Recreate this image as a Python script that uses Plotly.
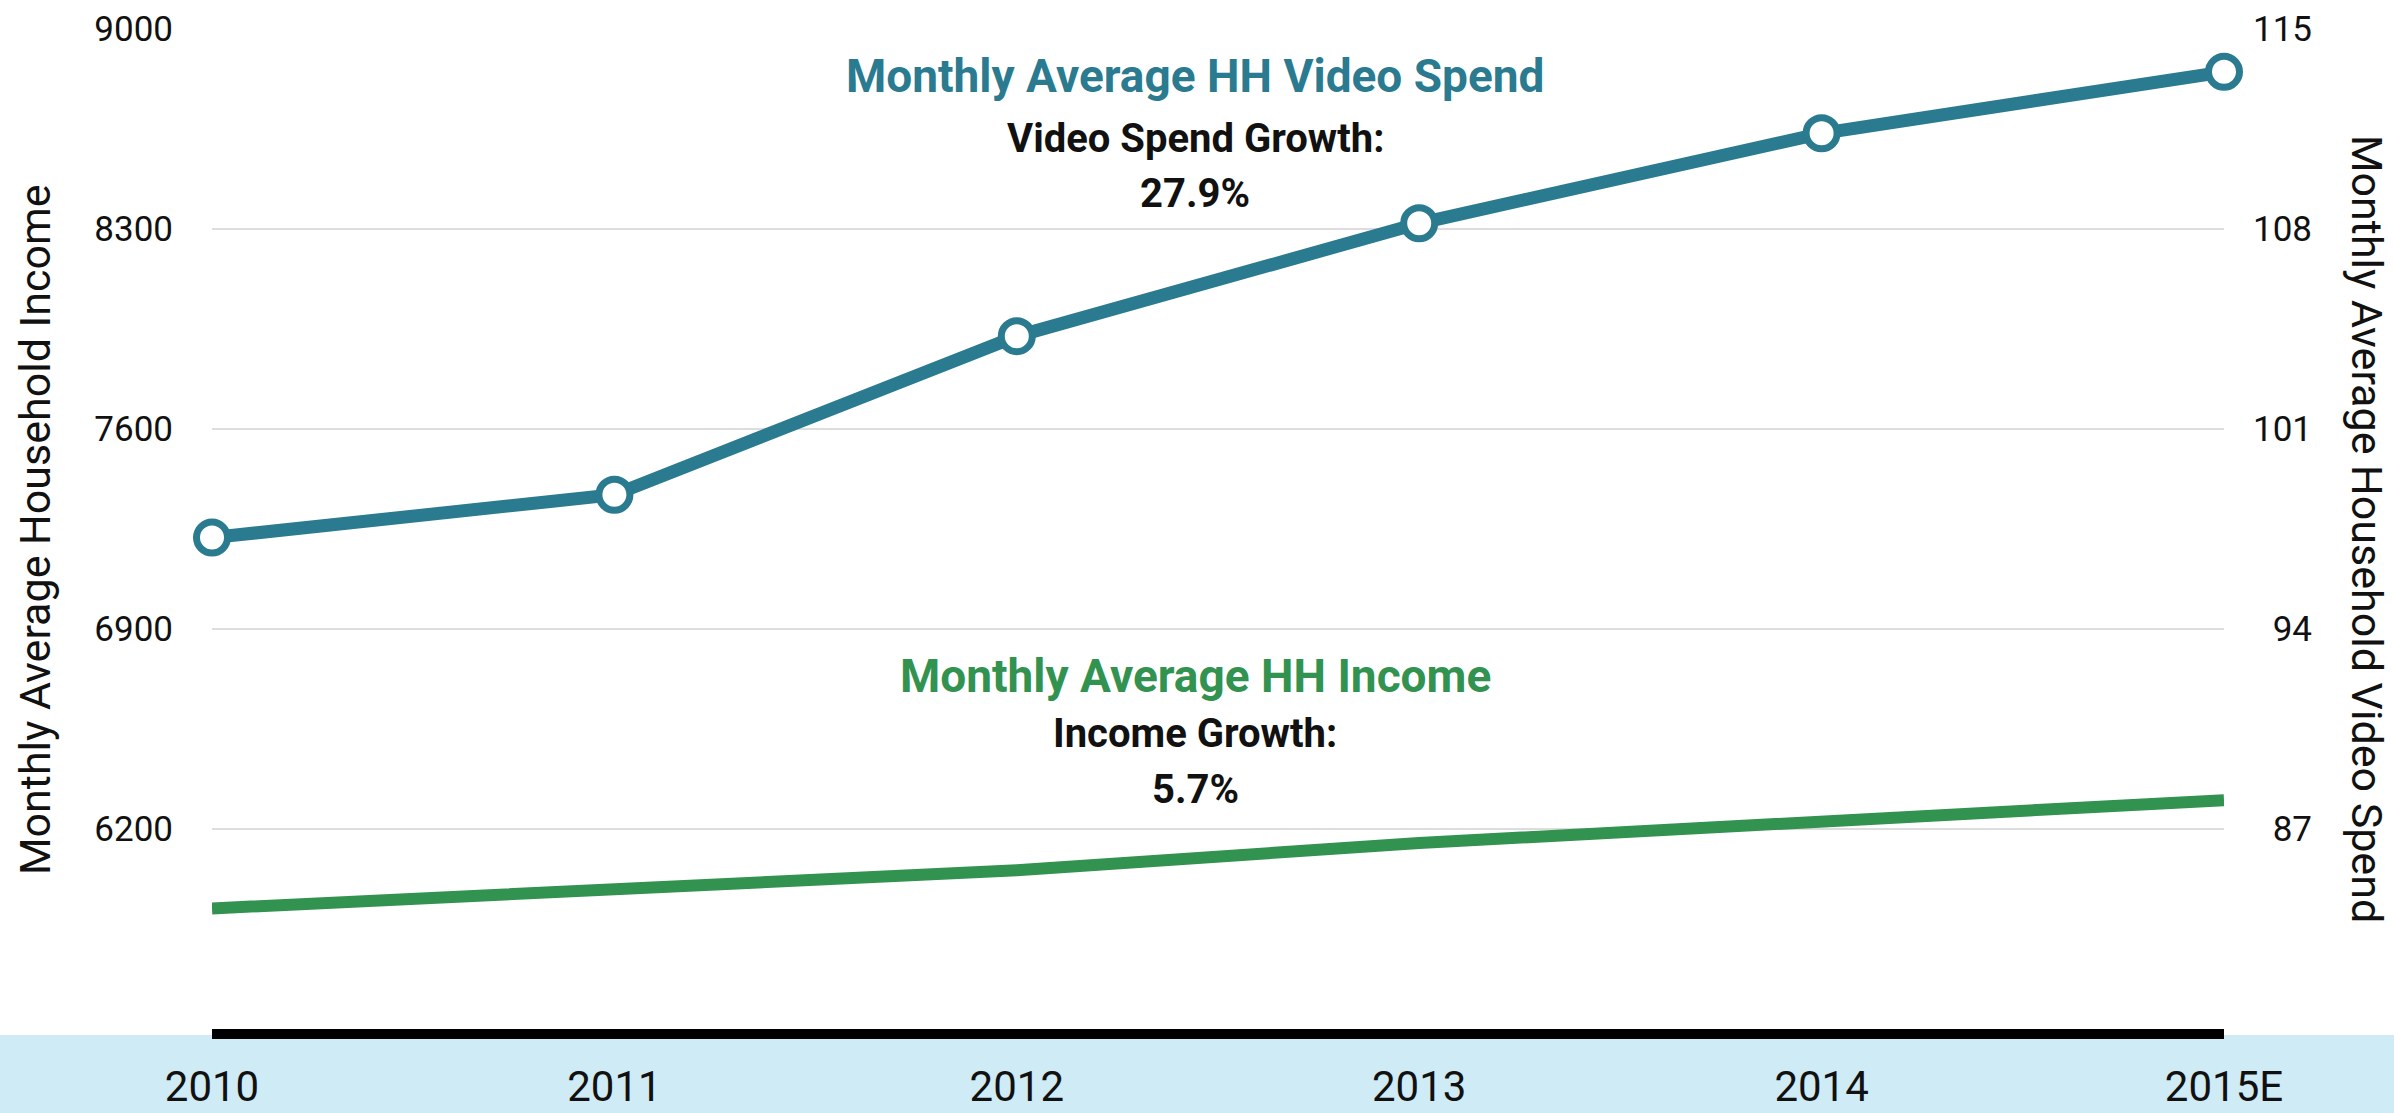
import plotly.graph_objects as go

# Years on the x axis
years = ["2010", "2011", "2012", "2013", "2014", "2015E"]

# Monthly average household income (left axis)
income = [5922, 5986, 6056, 6151, 6226, 6301]

# Monthly average household video spend (right axis)
video_spend = [97.2, 98.7, 104.25, 108.2, 111.35, 113.5]

# Axis ticks
income_ticks = [6200, 6900, 7600, 8300, 9000]
spend_ticks = [87, 94, 101, 108, 115]

TEAL = "#2A7A90"
GREEN = "#32924F"
FONT = "Roboto"

W, H = 2394, 1113
L, R, T, B = 212, 170, 29, 84
PW, PH = W - L - R, H - T - B

fig = go.Figure()

fig.add_trace(go.Scatter(
    x=years, y=income, mode="lines", yaxis="y",
    line=dict(color=GREEN, width=12),
    hoverinfo="skip", cliponaxis=False,
))

fig.add_trace(go.Scatter(
    x=years, y=video_spend, mode="lines+markers", yaxis="y2",
    line=dict(color=TEAL, width=13),
    marker=dict(size=31, color="white", line=dict(color=TEAL, width=7)),
    hoverinfo="skip", cliponaxis=False,
))

# Pad two-digit right-axis labels with figure spaces so they line up on the right
spend_text = [("\u2007" * (3 - len(str(v)))) + str(v) for v in spend_ticks]

fig.update_layout(
    width=W, height=H,
    margin=dict(l=L, r=R, t=T, b=B, autoexpand=False),
    paper_bgcolor="white", plot_bgcolor="white",
    showlegend=False,
    font=dict(family=FONT, color="#111111"),
    xaxis=dict(
        type="category", categoryorder="array", categoryarray=years,
        range=[0, len(years) - 1], automargin=False,
        showgrid=False, zeroline=False,
        showline=True, linewidth=10, linecolor="black",
        ticks="", ticklabelstandoff=12,
        tickfont=dict(family=FONT, size=42, color="#111111"),
    ),
    yaxis=dict(
        range=[5500, 9000], tickvals=income_ticks, automargin=False,
        showgrid=True, gridcolor="#DDDDDD", gridwidth=2,
        zeroline=False, showline=False, ticks="",
        ticklabelstandoff=38,
        tickfont=dict(family=FONT, size=35, color="#111111"),
    ),
    yaxis2=dict(
        range=[80, 115], tickvals=spend_ticks, ticktext=spend_text,
        overlaying="y", side="right", automargin=False,
        showgrid=False, zeroline=False, showline=False, ticks="",
        ticklabelstandoff=28,
        tickfont=dict(family=FONT, size=35, color="#111111"),
    ),
)

# Light blue band behind the year labels
fig.add_shape(
    type="rect", xref="paper", yref="paper",
    x0=-L / PW - 0.01, x1=1 + R / PW + 0.01,
    y0=-(B + 10) / PH, y1=-6 / PH,
    fillcolor="#CFEBF5", line=dict(width=0), layer="below",
)

cx = (1195 - L) / PW


def ypos(px):
    return (T + PH - px) / PH


notes = [
    ("Monthly Average HH Video Spend", 76, 46, TEAL),
    ("Video Spend Growth:", 138, 40, "#111111"),
    ("27.9%", 193, 40, "#111111"),
    ("Monthly Average HH Income", 676, 46, GREEN),
    ("Income Growth:", 733, 40, "#111111"),
    ("5.7%", 789, 40, "#111111"),
]
for text, py, size, color in notes:
    fig.add_annotation(
        text=text, xref="paper", yref="paper", x=cx, y=ypos(py),
        xanchor="center", yanchor="middle", showarrow=False,
        font=dict(family=FONT, size=size, color=color, weight=700),
    )

# Axis titles
fig.add_annotation(
    text="Monthly Average Household Income", xref="paper", yref="paper",
    x=(35 - L) / PW, y=ypos(530), xanchor="center", yanchor="middle",
    textangle=-90, showarrow=False,
    font=dict(family=FONT, size=43, color="#111111"),
)
fig.add_annotation(
    text="Monthly Average Household Video Spend", xref="paper", yref="paper",
    x=(2367 - L) / PW, y=ypos(529), xanchor="center", yanchor="middle",
    textangle=90, showarrow=False,
    font=dict(family=FONT, size=43, color="#111111"),
)

fig.write_html("out.html")
